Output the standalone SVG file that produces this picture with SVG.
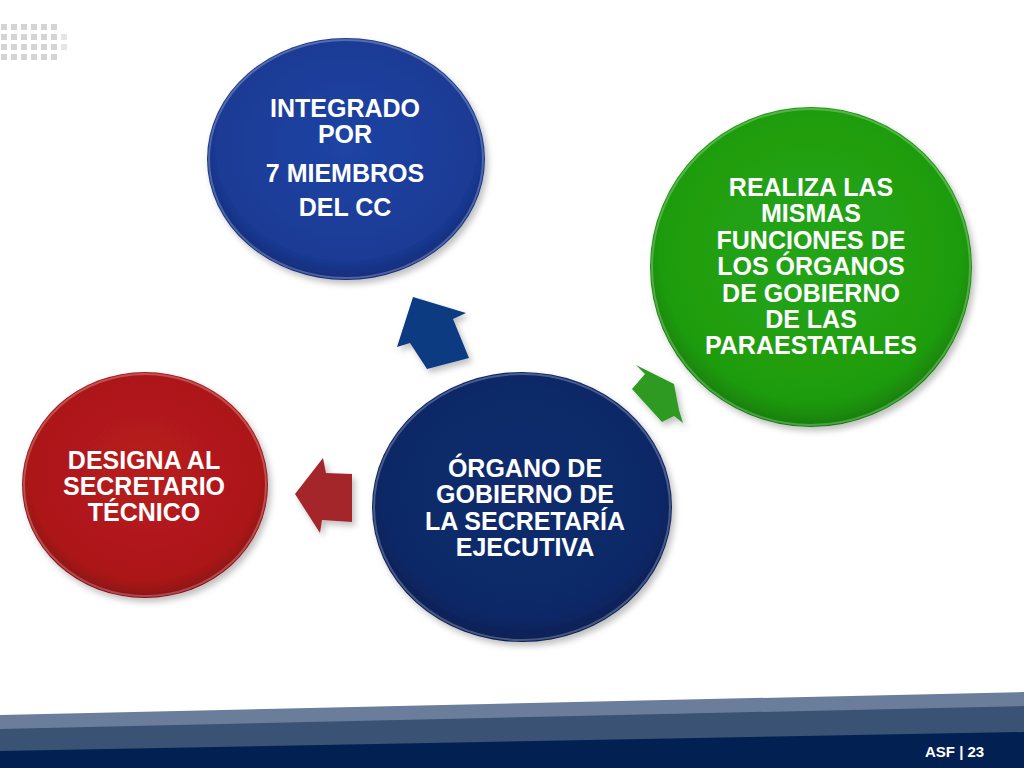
<svg xmlns="http://www.w3.org/2000/svg" width="1024" height="768" viewBox="0 0 1024 768">
<defs>
<radialGradient id="gBlue" cx="0.5" cy="0.45" r="0.55">
<stop offset="0" stop-color="#2044a4"/><stop offset="0.85" stop-color="#1a3a94"/><stop offset="1" stop-color="#132c78"/>
</radialGradient>
<radialGradient id="gGreen" cx="0.5" cy="0.45" r="0.55">
<stop offset="0" stop-color="#24a514"/><stop offset="0.85" stop-color="#1f9c10"/><stop offset="1" stop-color="#177d0c"/>
</radialGradient>
<radialGradient id="gNavy" cx="0.5" cy="0.45" r="0.55">
<stop offset="0" stop-color="#122d6e"/><stop offset="0.85" stop-color="#0f2866"/><stop offset="1" stop-color="#0a1f52"/>
</radialGradient>
<radialGradient id="gRed" cx="0.5" cy="0.45" r="0.55">
<stop offset="0" stop-color="#b81c1e"/><stop offset="0.85" stop-color="#ac1719"/><stop offset="1" stop-color="#8a1012"/>
</radialGradient>
<filter id="sh" x="-10%" y="-10%" width="125%" height="125%">
<feDropShadow dx="3" dy="4" stdDeviation="3" flood-color="#000" flood-opacity="0.25"/>
</filter>
</defs>
<style>
.t{font-family:"Liberation Sans",Arial,sans-serif;font-weight:bold;font-size:25px;fill:#fff;text-anchor:middle}
.rim{fill:none;stroke:#fff;stroke-opacity:0.25;stroke-width:2}
.dot{fill:#d4d4d4}
.ft{font-family:"Liberation Sans",Arial,sans-serif;font-weight:bold;font-size:15px;fill:#fff}
</style>
<rect width="1024" height="768" fill="#fff"/>
<g id="dots">
<rect class="dot" x="1" y="24" width="6" height="6"/><rect class="dot" x="11" y="24" width="6" height="6"/><rect class="dot" x="21" y="24" width="6" height="6"/><rect class="dot" x="31" y="24" width="6" height="6"/><rect class="dot" x="41" y="24" width="6" height="6"/><rect class="dot" x="51" y="24" width="6" height="6"/>
<rect class="dot" x="1" y="34" width="6" height="6"/><rect class="dot" x="11" y="34" width="6" height="6"/><rect class="dot" x="21" y="34" width="6" height="6"/><rect class="dot" x="31" y="34" width="6" height="6"/><rect class="dot" x="41" y="34" width="6" height="6"/><rect class="dot" x="51" y="34" width="6" height="6"/><rect class="dot" x="61" y="34" width="6" height="6" fill-opacity="0.6"/>
<rect class="dot" x="1" y="44" width="6" height="6"/><rect class="dot" x="11" y="44" width="6" height="6"/><rect class="dot" x="21" y="44" width="6" height="6"/><rect class="dot" x="31" y="44" width="6" height="6"/><rect class="dot" x="41" y="44" width="6" height="6"/><rect class="dot" x="51" y="44" width="6" height="6"/><rect class="dot" x="61" y="44" width="6" height="6" fill-opacity="0.6"/>
<rect class="dot" x="1" y="54" width="6" height="6"/><rect class="dot" x="11" y="54" width="6" height="6"/><rect class="dot" x="21" y="54" width="6" height="6"/><rect class="dot" x="31" y="54" width="6" height="6"/><rect class="dot" x="41" y="54" width="6" height="6"/><rect class="dot" x="51" y="54" width="6" height="6"/>
</g>
<g id="footer">
<polygon points="0,715 1024,692 1024,768 0,768" fill="#6a7e9b"/>
<polygon points="0,729 1024,706 1024,768 0,768" fill="#3a5273"/>
<polygon points="0,751 1024,732 1024,768 0,768" fill="#022052"/>
<text class="ft" x="925" y="757">ASF | 23</text>
</g>
<g id="connectors">
<polygon points="413,297 466,313 453,319 469,358 427,369 410,343 397,347" fill="#0d3a82" filter="url(#sh)"/>
<polygon points="636,365 674,384 679,410 683,423 674,416 662,422 632,389 645,374" fill="#2d9a22" filter="url(#sh)"/>
<polygon points="295,494 323,458 326,473 352,474 352,522 322,520 320,533" fill="#a4282a" filter="url(#sh)"/>
</g>
<g id="node-integrado">
<ellipse cx="346" cy="159" rx="139" ry="121" fill="url(#gBlue)" filter="url(#sh)"/>
<ellipse class="rim" cx="346" cy="159" rx="137" ry="119"/>
<text class="t" x="345" y="117">INTEGRADO</text>
<text class="t" x="345" y="143">POR</text>
<text class="t" x="345" y="182">7 MIEMBROS</text>
<text class="t" x="345" y="216">DEL CC</text>
</g>
<g id="node-realiza">
<ellipse cx="811" cy="267" rx="161" ry="160" fill="url(#gGreen)" filter="url(#sh)"/>
<ellipse class="rim" cx="811" cy="267" rx="159" ry="158"/>
<text class="t" x="811" y="196">REALIZA LAS</text>
<text class="t" x="811" y="222">MISMAS</text>
<text class="t" x="811" y="249">FUNCIONES DE</text>
<text class="t" x="811" y="275">LOS ÓRGANOS</text>
<text class="t" x="811" y="302">DE GOBIERNO</text>
<text class="t" x="811" y="328">DE LAS</text>
<text class="t" x="811" y="354">PARAESTATALES</text>
</g>
<g id="node-organo">
<ellipse cx="522" cy="507" rx="150" ry="135" fill="url(#gNavy)" filter="url(#sh)"/>
<ellipse class="rim" cx="522" cy="507" rx="148" ry="133"/>
<text class="t" x="525" y="477">ÓRGANO DE</text>
<text class="t" x="525" y="503">GOBIERNO DE</text>
<text class="t" x="525" y="530">LA SECRETARÍA</text>
<text class="t" x="525" y="556">EJECUTIVA</text>
</g>
<g id="node-designa">
<ellipse cx="145" cy="485" rx="123" ry="113" fill="url(#gRed)" filter="url(#sh)"/>
<ellipse class="rim" cx="145" cy="485" rx="121" ry="111"/>
<text class="t" x="144" y="469">DESIGNA AL</text>
<text class="t" x="144" y="495">SECRETARIO</text>
<text class="t" x="144" y="521">TÉCNICO</text>
</g>
</svg>
